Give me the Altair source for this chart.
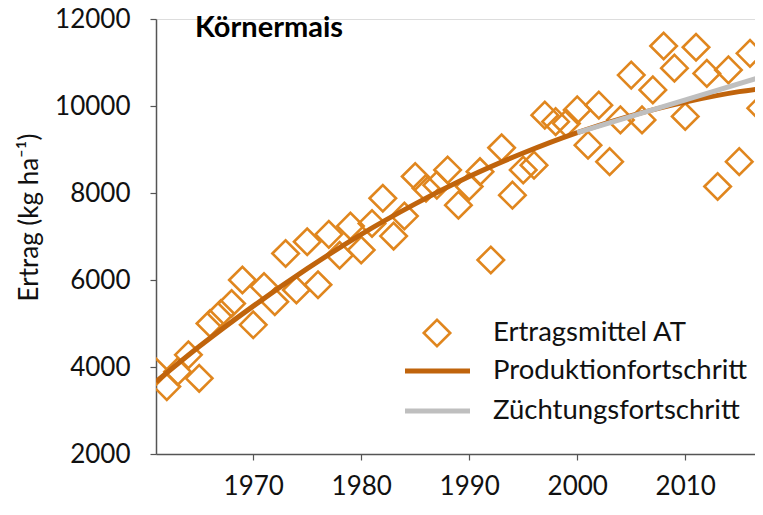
import altair as alt
import pandas as pd

# Observed yearly mean yields (Ertragsmittel AT)
years = list(range(1961, 2018))
yields = [3890, 3550, 3890, 4280, 3740, 5000, 5230, 5460, 6000, 4970,
          5850, 5500, 6610, 5770, 6880, 5890, 7050, 6570, 7240, 6690,
          7300, 7880, 7010, 7470, 8380, 8110, 8180, 8530, 7720, 8150,
          8490, 6460, 9040, 7950, 8530, 8640, 9790, 9640, 9600, 9910,
          9100, 10020, 8720, 9680, 10710, 9680, 10370, 11380, 10870, 9760,
          11350, 10750, 8150, 10830, 8720, 11210, 9950]

# Produktionsfortschritt curve
prod_years = [1961, 1965, 1970, 1975, 1980, 1985, 1990, 1995, 2000, 2005, 2010, 2015, 2018]
prod_vals = [3660, 4470, 5400, 6260, 7050, 7750, 8380, 8920, 9390, 9780, 10090, 10330, 10430]

# Zuechtungsfortschritt line
zf_years = [2000, 2018]
zf_vals = [9390, 10740]

x_ticks = [1970, 1980, 1990, 2000, 2010]
y_ticks = [2000, 4000, 6000, 8000, 10000, 12000]

legend_labels = ["Ertragsmittel AT", "Produktionfortschritt", "Züchtungsfortschritt"]

FONT = "Lato"
ORANGE = "#E0861E"
BROWN = "#C0640C"
GRAY = "#BFBFBF"

pts = pd.DataFrame({"Jahr": years, "Ertrag": yields})
prod = pd.DataFrame({"Jahr": prod_years, "Ertrag": prod_vals})
zf = pd.DataFrame({"Jahr": zf_years, "Ertrag": zf_vals})

xs = alt.Scale(domain=[1961, 2016.46], nice=False, zero=False)
ys = alt.Scale(domain=[2000, 12000], nice=False, zero=False)

x_axis = alt.Axis(values=x_ticks, format="d", title=None, grid=False,
                  labelFontSize=26, labelFont=FONT, labelColor="#111111",
                  labelPadding=13, tickSize=6, tickColor="#555555",
                  domainColor="#555555", domainWidth=1.5, tickWidth=1.2)
y_axis = alt.Axis(values=y_ticks, format="d", grid=False,
                  title="Ertrag (kg ha⁻¹)", titleFontSize=26, titleFont=FONT,
                  titleFontWeight="normal", titleColor="#111111",
                  titleAngle=-90, titleX=-127, titleY=198,
                  titleAlign="center", titleBaseline="middle",
                  labelFontSize=26, labelFont=FONT, labelColor="#111111",
                  labelPadding=20, tickSize=6, tickColor="#555555",
                  domainColor="#555555", domainWidth=1.5, tickWidth=1.2)

points = alt.Chart(pts).mark_point(
    shape="diamond", filled=False, size=700, strokeWidth=2.6,
    color=ORANGE, opacity=1, clip=True
).encode(
    x=alt.X("Jahr:Q", scale=xs, axis=x_axis),
    y=alt.Y("Ertrag:Q", scale=ys, axis=y_axis),
)

prod_line = alt.Chart(prod).mark_line(
    color=BROWN, strokeWidth=5, interpolate="monotone", clip=True
).encode(x=alt.X("Jahr:Q", scale=xs), y=alt.Y("Ertrag:Q", scale=ys))

zf_line = alt.Chart(zf).mark_line(
    color=GRAY, strokeWidth=5, clip=True
).encode(x=alt.X("Jahr:Q", scale=xs), y=alt.Y("Ertrag:Q", scale=ys))

title_txt = alt.Chart(pd.DataFrame({"t": ["Körnermais"]})).mark_text(
    font=FONT, fontSize=29, fontWeight="bold", align="left", baseline="alphabetic",
    color="#000000"
).encode(text="t:N", x=alt.value(39), y=alt.value(18))

# Manual legend
leg_sym = alt.Chart(pd.DataFrame({"k": [0]})).mark_point(
    shape="diamond", filled=False, size=700, strokeWidth=2.6, color=ORANGE, opacity=1
).encode(x=alt.value(281), y=alt.value(314))

leg_prod = alt.Chart(pd.DataFrame({"k": [0]})).mark_rule(
    color=BROWN, strokeWidth=5
).encode(x=alt.value(249), x2=alt.value(314), y=alt.value(352))

leg_zf = alt.Chart(pd.DataFrame({"k": [0]})).mark_rule(
    color=GRAY, strokeWidth=5
).encode(x=alt.value(249), x2=alt.value(314), y=alt.value(392))

leg_text = alt.Chart(pd.DataFrame({"label": legend_labels, "pos": [314, 352, 392]})).mark_text(
    font=FONT, fontSize=27.5, align="left", baseline="middle", color="#111111"
).encode(text="label:N", x=alt.value(337),
         y=alt.Y("pos:Q", scale=alt.Scale(domain=[0, 435], range=[0, 435]), axis=None))

chart = alt.layer(points, prod_line, zf_line, title_txt, leg_sym, leg_prod, leg_zf, leg_text).resolve_scale(
    y="independent"
).properties(
    width=599, height=435,
    autosize=alt.AutoSizeParams(type="none"),
    padding={"left": 148, "top": 11, "right": 0, "bottom": 53},
).configure_view(stroke=None).configure(background="white")

chart.save("out.html", embed_options={"renderer": "svg", "actions": False})
